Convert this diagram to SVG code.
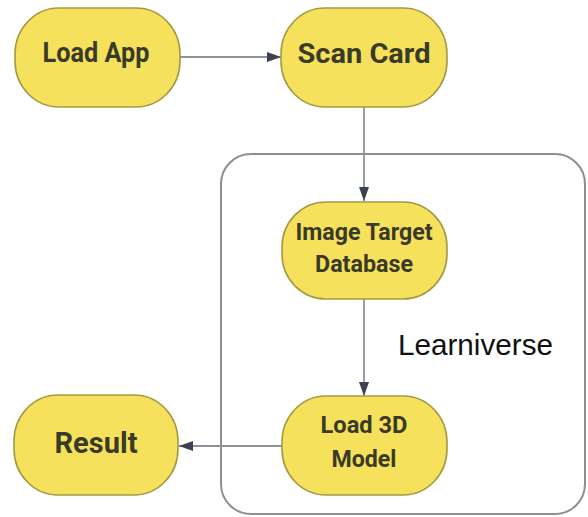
<svg xmlns="http://www.w3.org/2000/svg" width="588" height="517" viewBox="0 0 588 517">
  <defs>
    <marker id="arrow" viewBox="0 0 14 10" refX="14" refY="5" markerWidth="14" markerHeight="10" markerUnits="userSpaceOnUse" orient="auto">
      <path d="M0,0 L14,5 L0,10 Z" fill="#3c4150"/>
    </marker>
    <style>
      .node { fill: #f6e15c; stroke: #a49a45; stroke-width: 1.6; }
      .lbl { font-family: Roboto, "Liberation Sans", sans-serif; font-weight: bold; fill: #3a3a28; text-anchor: middle; }
      .conn { stroke: #8d929b; stroke-width: 1.8; fill: none; }
      .container { fill: none; stroke: #8f8f8f; stroke-width: 2; }
      .title { font-family: "Liberation Sans", Arial, sans-serif; font-size: 29px; fill: #111111; }
    </style>
  </defs>
  <rect width="588" height="517" fill="#ffffff"/>

  <g id="learniverse">
    <rect class="container" x="221" y="154" width="364" height="360" rx="30" ry="30"/>
    <text class="title" x="398" y="355" textLength="155" lengthAdjust="spacingAndGlyphs">Learniverse</text>
  </g>

  <g id="connectors">
    <line class="conn" x1="180" y1="57" x2="281" y2="57" marker-end="url(#arrow)"/>
    <line class="conn" x1="364" y1="107" x2="364" y2="201" marker-end="url(#arrow)"/>
    <line class="conn" x1="364" y1="299" x2="364" y2="396" marker-end="url(#arrow)"/>
    <line class="conn" x1="282" y1="446" x2="179" y2="446" marker-end="url(#arrow)"/>
  </g>

  <g id="load-app">
    <rect class="node" x="15" y="8" width="165" height="99" rx="44" ry="46"/>
    <text class="lbl" x="96" y="62" font-size="28" textLength="107" lengthAdjust="spacingAndGlyphs">Load App</text>
  </g>

  <g id="scan-card">
    <rect class="node" x="281" y="8" width="166" height="99" rx="44" ry="46"/>
    <text class="lbl" x="364" y="63" font-size="28" textLength="133" lengthAdjust="spacingAndGlyphs">Scan Card</text>
  </g>

  <g id="image-target-database">
    <rect class="node" x="282" y="202" width="165" height="97" rx="44" ry="45"/>
    <text class="lbl" x="364" y="240" font-size="24" textLength="137" lengthAdjust="spacingAndGlyphs">Image Target</text>
    <text class="lbl" x="364" y="272" font-size="24" textLength="98" lengthAdjust="spacingAndGlyphs">Database</text>
  </g>

  <g id="load-3d-model">
    <rect class="node" x="282" y="396" width="165" height="99" rx="44" ry="46"/>
    <text class="lbl" x="364" y="433" font-size="24" textLength="87" lengthAdjust="spacingAndGlyphs">Load 3D</text>
    <text class="lbl" x="364" y="467" font-size="24" textLength="65" lengthAdjust="spacingAndGlyphs">Model</text>
  </g>

  <g id="result">
    <rect class="node" x="14" y="395" width="164" height="100" rx="44" ry="46"/>
    <text class="lbl" x="96" y="453" font-size="30" textLength="83" lengthAdjust="spacingAndGlyphs">Result</text>
  </g>
</svg>
